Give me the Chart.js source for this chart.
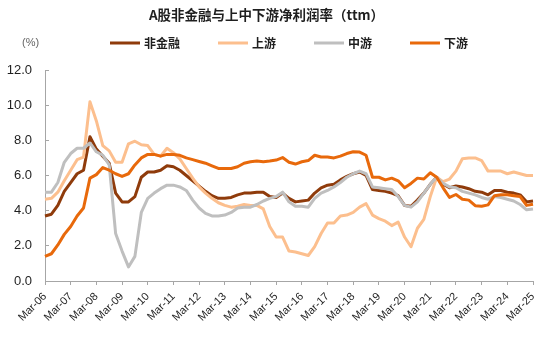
<!DOCTYPE html>
<html>
<head>
<meta charset="utf-8">
<script src="https://cdn.jsdelivr.net/npm/chart.js@4.4.1/dist/chart.umd.min.js"></script>
<style>
  html, body { margin: 0; padding: 0; background: #fff; }
</style>
</head>
<body>
<canvas id="marginChart" width="550" height="342"></canvas>
<script>
// quarterly ttm net margin, Mar-06 .. Mar-25
const years = ['06', '07', '08', '09', '10', '11', '12', '13', '14', '15',
               '16', '17', '18', '19', '20', '21', '22', '23', '24', '25'];
const months = ['Mar', 'Jun', 'Sep', 'Dec'];
const quarters = [];
years.forEach(y => months.forEach(m => quarters.push(m + '-' + y)));
quarters.length = 77;

const nonFinancial = [
  3.7, 3.8, 4.3, 5.1, 5.6, 6.1, 6.3, 8.2, 7.5, 7.1,
  6.7, 5.0, 4.5, 4.5, 4.8, 5.9, 6.2, 6.2, 6.3, 6.55,
  6.5, 6.3, 6.0, 5.7, 5.4, 5.1, 4.85, 4.7, 4.7, 4.75,
  4.9, 5.0, 5.0, 5.05, 5.05, 4.8, 4.75, 5.0, 4.7, 4.5,
  4.55, 4.6, 5.0, 5.3, 5.45, 5.5, 5.75, 5.95, 6.1, 6.2,
  6.0, 5.2, 5.15, 5.1, 5.0, 4.85, 4.3, 4.25, 4.6, 5.0,
  5.5, 5.9, 5.5, 5.3, 5.4, 5.35, 5.25, 5.1, 5.05, 4.9,
  5.15, 5.15, 5.05, 5.0, 4.9, 4.5, 4.55
];
const upstream = [
  4.65, 4.7, 5.05, 5.7, 6.3, 6.9, 7.05, 10.2, 9.1, 7.7,
  7.4, 6.75, 6.75, 7.8, 7.95, 7.75, 7.7, 7.2, 7.1, 7.55,
  7.3, 6.95, 6.4, 5.85, 5.35, 5.0, 4.7, 4.45, 4.3, 4.2,
  4.25, 4.35, 4.3, 4.3, 4.1, 3.1, 2.5, 2.5, 1.7, 1.65,
  1.55, 1.45, 1.95, 2.7, 3.3, 3.3, 3.7, 3.75, 3.9, 4.2,
  4.4, 3.75, 3.55, 3.4, 3.15, 3.35, 2.5, 1.95, 3.0, 3.5,
  4.8, 5.9, 5.65, 5.8, 6.25, 6.95, 7.0, 7.0, 6.85, 6.25,
  6.25, 6.25, 6.1, 6.2, 6.1, 6.0, 6.0
];
const midstream = [
  5.05, 5.05, 5.6, 6.75, 7.25, 7.55, 7.55, 7.85, 7.35, 7.15,
  6.6, 2.7, 1.7, 0.8, 1.4, 3.9, 4.7, 5.0, 5.25, 5.45,
  5.45, 5.35, 5.15, 4.6, 4.15, 3.85, 3.7, 3.7, 3.75, 3.9,
  4.15, 4.2, 4.2, 4.35, 4.55, 4.7, 4.8, 5.05, 4.5, 4.25,
  4.25, 4.2, 4.7, 5.0, 5.15, 5.35, 5.6, 5.9, 6.1, 6.25,
  6.1, 5.35, 5.3, 5.25, 5.2, 4.8, 4.3, 4.2, 4.5, 5.0,
  5.5, 5.9, 5.55, 5.35, 5.3, 5.1, 5.0, 4.9, 4.75, 4.65,
  4.8, 4.75, 4.65, 4.55, 4.35, 4.05, 4.1
];
const downstream = [
  1.4, 1.55, 2.05, 2.65, 3.1, 3.7, 4.15, 5.85, 6.05, 6.45,
  6.3, 6.1, 5.95, 6.1, 6.6, 7.0, 7.2, 7.2, 7.1, 7.2,
  7.2, 7.15, 7.0, 6.9, 6.8, 6.7, 6.55, 6.4, 6.4, 6.4,
  6.5, 6.7, 6.78, 6.82, 6.78, 6.82, 6.88, 7.02, 6.75, 6.65,
  6.78, 6.85, 7.15, 7.05, 7.05, 7.0, 7.1, 7.25, 7.35, 7.33,
  7.15, 5.9, 5.9, 5.75, 5.85, 5.7, 5.3, 5.55, 5.85, 5.8,
  6.15, 5.9, 5.3, 4.75, 4.92, 4.65, 4.6, 4.28, 4.25, 4.33,
  4.85, 4.9, 4.9, 4.85, 4.8, 4.3, 4.37
];

const axisColor = '#a6a6a6';
const textColor = '#1f1f1f';

// legend row with the unit label on the left
const legendRow = {
  id: 'legendRow',
  afterDraw(chart, args, opts) {
    const ctx = chart.ctx;
    ctx.save();
    ctx.textBaseline = 'middle';
    ctx.font = '11px "Liberation Sans"';
    ctx.fillStyle = '#666';
    ctx.fillText('(%)', 22, opts.y);
    ctx.font = 'bold 12px "Noto Sans CJK SC"';
    let x = opts.x;
    chart.data.datasets.forEach(ds => {
      ctx.strokeStyle = ds.borderColor;
      ctx.lineWidth = 3;
      ctx.beginPath();
      ctx.moveTo(x, opts.y);
      ctx.lineTo(x + 30, opts.y);
      ctx.stroke();
      x += 34;
      ctx.fillStyle = textColor;
      ctx.fillText(ds.label, x, opts.y);
      x += ctx.measureText(ds.label).width + 38;
    });
    ctx.restore();
  }
};

new Chart(document.getElementById('marginChart'), {
  type: 'line',
  data: {
    labels: quarters,
    datasets: [
      { label: '非金融', data: nonFinancial, borderColor: '#8f3b0b', order: 4 },
      { label: '上游', data: upstream, borderColor: '#fcbf8e', order: 3 },
      { label: '中游', data: midstream, borderColor: '#bfbfbf', order: 2 },
      { label: '下游', data: downstream, borderColor: '#e8690b', order: 1 }
    ]
  },
  options: {
    responsive: false,
    animation: false,
    layout: { padding: { top: 0, right: 17, bottom: 0, left: 0 } },
    elements: {
      point: { radius: 0 },
      line: { borderWidth: 3, tension: 0, borderJoinStyle: 'round' }
    },
    plugins: {
      legend: { display: false },
      tooltip: { enabled: false },
      title: {
        display: true,
        text: 'A股非金融与上中下游净利润率（ttm）',
        color: textColor,
        font: { family: '"Noto Sans CJK SC"', size: 13.5, weight: 'bold' },
        padding: { top: 7, bottom: 46.8 }
      },
      legendRow: { x: 110, y: 43 }
    },
    scales: {
      x: {
        offset: false,
        border: { color: axisColor },
        grid: {
          drawOnChartArea: false,
          tickLength: 4,
          tickColor: c => (c.index % 4 === 0 ? axisColor : 'rgba(0,0,0,0)')
        },
        ticks: {
          autoSkip: false,
          minRotation: 45,
          maxRotation: 45,
          padding: 5,
          color: textColor,
          font: { family: '"Liberation Sans"', size: 11 },
          callback: (v, i) => (i % 4 === 0 ? quarters[i] : '')
        },
        afterFit(scale) { scale.height = 61; }
      },
      y: {
        min: 0,
        max: 12,
        border: { color: axisColor },
        grid: { drawOnChartArea: false, tickLength: -4, color: axisColor },
        ticks: {
          stepSize: 2,
          padding: 17,
          color: textColor,
          font: { family: '"Liberation Sans"', size: 13 },
          callback: v => v.toFixed(1)
        },
        afterFit(scale) { scale.width = 45; }
      }
    }
  },
  plugins: [legendRow]
});
</script>
</body>
</html>
